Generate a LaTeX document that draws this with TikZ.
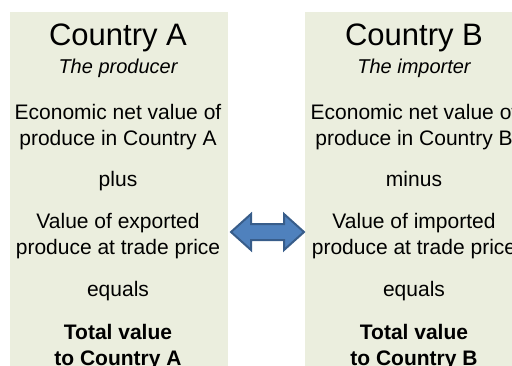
\documentclass[tikz,border=0pt]{standalone}
\usepackage{fontspec}
\setmainfont{Liberation Sans}
\usepackage{xcolor}
\definecolor{panelgreen}{HTML}{EBEEDE}
\definecolor{arrowblue}{HTML}{4F81BD}
\definecolor{arrowedge}{HTML}{385D8A}

\begin{document}
\begin{tikzpicture}[x=1pt,y=-1pt,
  txt/.style={anchor=base,inner sep=0pt,font=\fontsize{21}{25}\selectfont},
  title/.style={txt,font=\fontsize{31}{37}\selectfont},
  subtitle/.style={txt,font=\fontsize{20}{24}\selectfont\itshape},
  total/.style={txt,font=\fontsize{21}{25}\selectfont\bfseries}]
\useasboundingbox (0,0) rectangle (512,365);
\clip (0,0) rectangle (512,365);

% panels
\fill[panelgreen] (10,12) rectangle (228,380);
\fill[panelgreen] (305,12) rectangle (523,380);

% country A
\node[title] (titleA) at (118,45) {Country A};
\node[subtitle] (subA) at (118,73) {The producer};
\node[txt] (netA) at (118,119) {Economic net value of};
\node[txt] (netAb) at (118,145) {produce in Country A};
\node[txt] (plusA) at (118,186) {plus};
\node[txt] (tradeA) at (118,228) {Value of exported};
\node[txt] (tradeAb) at (118,254) {produce at trade price};
\node[txt] (eqA) at (118,296) {equals};
\node[total] (totA) at (118,339) {Total value};
\node[total] (totAb) at (118,365) {to Country A};

% country B
\node[title] (titleB) at (414,45) {Country B};
\node[subtitle] (subB) at (414,73) {The importer};
\node[txt] (netB) at (414,119) {Economic net value of};
\node[txt] (netBb) at (414,145) {produce in Country B};
\node[txt] (minusB) at (414,186) {minus};
\node[txt] (tradeB) at (414,228) {Value of imported};
\node[txt] (tradeBb) at (414,254) {produce at trade price};
\node[txt] (eqB) at (414,296) {equals};
\node[total] (totB) at (414,339) {Total value};
\node[total] (totBb) at (414,365) {to Country B};

% double arrow
\draw[arrowedge,fill=arrowblue,line width=2pt,line join=miter]
  (231,232) -- (251,214) -- (251,224) -- (284,224) -- (284,214) -- (304,232)
  -- (284,250) -- (284,240) -- (251,240) -- (251,250) -- cycle;

\end{tikzpicture}
\end{document}
